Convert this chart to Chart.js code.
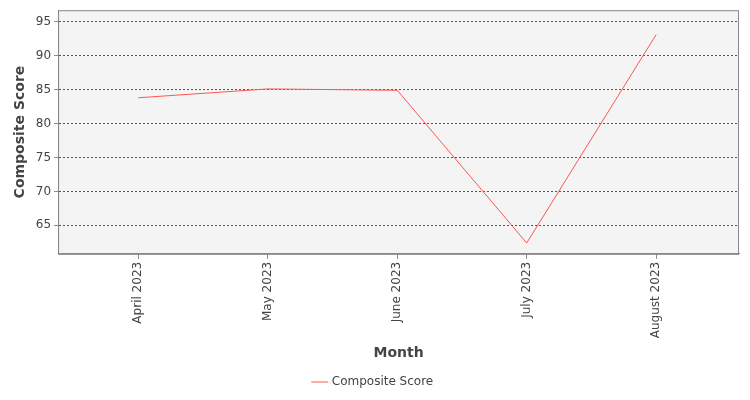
<!DOCTYPE html>
<html>
<head>
<meta charset="utf-8">
<script src="https://cdn.jsdelivr.net/npm/chart.js@4"></script>
<style>
  body { margin: 0; background: #fff; }
  #wrap { width: 750px; height: 400px; }
</style>
</head>
<body>
<div id="wrap"><canvas id="chart"></canvas></div>
<script>
const months = ['April 2023', 'May 2023', 'June 2023', 'July 2023', 'August 2023'];
const compositeScore = [83.8, 85.1, 84.9, 62.4, 93.1];
const yTicks = [65, 70, 75, 80, 85, 90, 95];

// paint the plot area grey with a border
const plotBg = {
  id: 'plotBg',
  beforeDraw(chart) {
    const { ctx, chartArea: a } = chart;
    ctx.save();
    ctx.fillStyle = '#f4f4f4';
    ctx.fillRect(a.left, a.top, a.right - a.left, a.bottom - a.top);
    ctx.restore();
  },
  afterDraw(chart) {
    const { ctx, chartArea: a } = chart;
    ctx.save();
    ctx.strokeStyle = '#888';
    ctx.lineWidth = 1;
    ctx.strokeRect(a.left + 0.5, a.top + 0.5, a.right - a.left - 1, a.bottom - a.top);
    ctx.restore();
  }
};

new Chart(document.getElementById('chart'), {
  type: 'line',
  data: {
    datasets: [{
      label: 'Composite Score',
      data: compositeScore.map((v, i) => ({ x: i, y: v })),
      borderColor: '#ff5555',
      backgroundColor: '#ff5555',
      borderWidth: 1,
      pointRadius: 0,
      tension: 0
    }]
  },
  options: {
    responsive: true,
    maintainAspectRatio: false,
    animation: false,
    layout: { padding: { left: 8, right: 11, top: 5, bottom: 2 } },
    plugins: {
      legend: {
        position: 'bottom',
        labels: {
          usePointStyle: true,
          pointStyle: 'line',
          color: '#444',
          font: { family: 'DejaVu Sans', size: 12 }
        }
      },
      tooltip: { enabled: false }
    },
    scales: {
      x: {
        type: 'linear',
        min: -0.62,
        max: 4.64,
        afterBuildTicks: s => { s.ticks = months.map((m, i) => ({ value: i })); },
        ticks: {
          callback: v => months[v],
          maxRotation: 90,
          minRotation: 90,
          color: '#444',
          font: { family: 'DejaVu Sans', size: 12 }
        },
        grid: { drawOnChartArea: false, tickLength: 5, color: '#888' },
        border: { color: '#888' },
        title: {
          display: true,
          text: 'Month',
          color: '#444',
          font: { family: 'DejaVu Sans', size: 14, weight: 'bold' }
        }
      },
      y: {
        min: 60.8,
        max: 96.7,
        afterBuildTicks: s => { s.ticks = yTicks.map(v => ({ value: v })); },
        ticks: {
          color: '#444',
          font: { family: 'DejaVu Sans', size: 12 }
        },
        grid: {
          color: '#555',
          tickLength: 4,
          tickBorderDash: [0],
          tickColor: '#888'
        },
        border: { dash: [2, 2], color: '#888' },
        title: {
          display: true,
          text: 'Composite Score',
          color: '#444',
          font: { family: 'DejaVu Sans', size: 14, weight: 'bold' }
        }
      }
    }
  },
  plugins: [plotBg]
});
</script>
</body>
</html>
